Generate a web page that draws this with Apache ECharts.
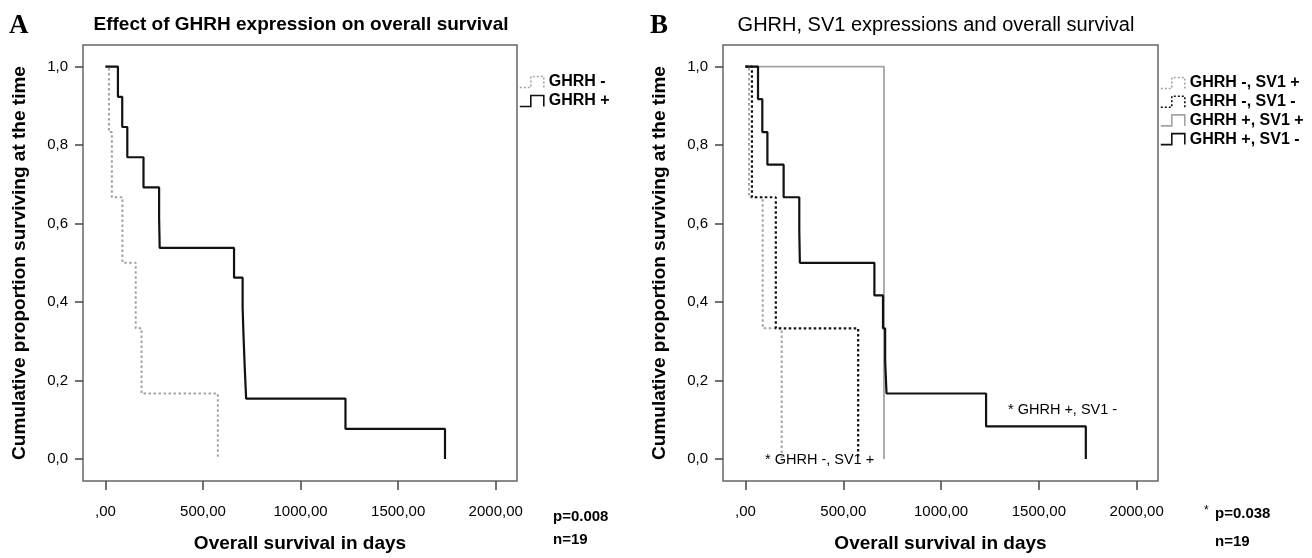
<!DOCTYPE html>
<html>
<head>
<meta charset="utf-8">
<script src="https://cdn.jsdelivr.net/npm/echarts@6/dist/echarts.min.js"></script>
<style>
html, body { margin: 0; padding: 0; background: #fff; }
#main { width: 1312px; height: 558px; }
</style>
</head>
<body>
<div id="main"></div>
<script>
var FONT = "'Liberation Sans', Arial, sans-serif";

// tick labels (SPSS style, comma decimals)
var xTickValues = [0, 500, 1000, 1500, 2000];
var xTickLabels = [',00', '500,00', '1000,00', '1500,00', '2000,00'];
var yTickValues = [0, 0.2, 0.4, 0.6, 0.8, 1.0];
var yTickLabels = ['0,0', '0,2', '0,4', '0,6', '0,8', '1,0'];

// panel A - GHRH expression
var ghrhNegDays = [0, 18, 33, 87, 155, 185, 576];
var ghrhNegSurv = [1, 0.833, 0.667, 0.5, 0.333, 0.167, 0];
var ghrhPosDays = [0, 64, 86, 112, 195, 275, 278, 659, 703, 708, 714, 721, 1230, 1740];
var ghrhPosSurv = [1, 0.923, 0.846, 0.769, 0.692, 0.615, 0.538, 0.462, 0.385, 0.308, 0.231, 0.154, 0.077, 0];

// panel B - GHRH / SV1 groups
var negSv1PosDays = [0, 18, 88, 185];
var negSv1PosSurv = [1, 0.667, 0.333, 0];
var negSv1NegDays = [0, 33, 155, 576];
var negSv1NegSurv = [1, 0.667, 0.333, 0];
var posSv1PosDays = [0, 708];
var posSv1PosSurv = [1, 0];
var posSv1NegDays = [0, 64, 86, 112, 195, 275, 278, 659, 703, 714, 721, 1230, 1740];
var posSv1NegSurv = [1, 0.917, 0.833, 0.75, 0.667, 0.583, 0.5, 0.417, 0.333, 0.25, 0.167, 0.083, 0];

function pairs(days, surv) {
    return days.map(function (d, i) { return [d, surv[i]]; });
}

function lookup(values, labels) {
    return function (v) {
        for (var i = 0; i < values.length; i++) {
            if (Math.abs(values[i] - v) < 1e-6) return labels[i];
        }
        return '';
    };
}

var GRAY = '#a3a3a3';
var BLACK = '#111';
var stepIcon = 'path://M0,12 L11,12 L11,1 L24,1 L24,12';

function xAxis(idx) {
    return {
        type: 'value', gridIndex: idx, min: -115, max: 2109,
        name: 'Overall survival in days', nameLocation: 'middle', nameGap: 53,
        nameTextStyle: { fontFamily: FONT, fontSize: 19, fontWeight: 'bold', color: '#000' },
        axisLine: { show: false, onZero: false },
        axisTick: { show: true, customValues: xTickValues, length: 9, lineStyle: { color: '#444', width: 1.5 } },
        axisLabel: { customValues: xTickValues, formatter: lookup(xTickValues, xTickLabels),
            margin: 23, fontFamily: FONT, fontSize: 15, color: '#000' },
        splitLine: { show: false }
    };
}

function yAxis(idx) {
    return {
        type: 'value', gridIndex: idx, min: -0.056, max: 1.055,
        name: 'Cumulative proportion surviving at the time', nameLocation: 'middle', nameGap: 54,
        nameTextStyle: { fontFamily: FONT, fontSize: 19, fontWeight: 'bold', color: '#000' },
        axisLine: { show: false, onZero: false },
        axisTick: { show: true, customValues: yTickValues, length: 8, lineStyle: { color: '#444', width: 1.5 } },
        axisLabel: { customValues: yTickValues, formatter: lookup(yTickValues, yTickLabels),
            margin: 15, fontFamily: FONT, fontSize: 15, color: '#000' },
        splitLine: { show: false }
    };
}

function km(name, idx, data, color, width, dashed) {
    return {
        name: name, type: 'line', step: 'end', xAxisIndex: idx, yAxisIndex: idx,
        data: data, symbol: 'none', animation: false,
        lineStyle: { color: color, width: width, type: dashed ? [2.5, 2.5] : 'solid' },
        itemStyle: { color: color }
    };
}

function legendItem(name, color, dashed) {
    return {
        name: name, icon: stepIcon,
        itemStyle: { color: 'rgba(0,0,0,0)', borderColor: color, borderWidth: 1.6, borderType: dashed ? [2, 2] : 'solid' }
    };
}

var legendText = { fontFamily: FONT, fontSize: 16, fontWeight: 'bold', color: '#000' };

function txt(x, y, text, size, weight, align, family) {
    return {
        type: 'text', x: x, y: y, silent: true,
        style: { text: text, fill: '#000', font: (weight || 'normal') + ' ' + size + 'px ' + (family || FONT),
            textAlign: align || 'left', textVerticalAlign: 'middle' }
    };
}

var chart = echarts.init(document.getElementById('main'));

var option = {
    backgroundColor: '#fff',
    animation: false,
    grid: [
        { left: 83, top: 45, width: 434, height: 437, show: true, borderColor: '#666', borderWidth: 1.5, backgroundColor: '#fff' },
        { left: 723, top: 45, width: 435, height: 437, show: true, borderColor: '#666', borderWidth: 1.5, backgroundColor: '#fff' }
    ],
    xAxis: [xAxis(0), xAxis(1)],
    yAxis: [yAxis(0), yAxis(1)],
    legend: [
        {
            left: 519, top: 74, padding: 0, orient: 'vertical', itemWidth: 24, itemHeight: 12, itemGap: 3,
            textStyle: legendText, selectedMode: false,
            data: [legendItem('GHRH -', GRAY, true), legendItem('GHRH +', BLACK, false)]
        },
        {
            left: 1160, top: 75, padding: 0, orient: 'vertical', itemWidth: 24, itemHeight: 12, itemGap: 2.7,
            textStyle: legendText, selectedMode: false,
            data: [
                legendItem('GHRH -, SV1 +', GRAY, true),
                legendItem('GHRH -, SV1 -', BLACK, true),
                legendItem('GHRH +, SV1 +', GRAY, false),
                legendItem('GHRH +, SV1 -', BLACK, false)
            ]
        }
    ],
    series: [
        km('GHRH -', 0, pairs(ghrhNegDays, ghrhNegSurv), GRAY, 2, true),
        km('GHRH +', 0, pairs(ghrhPosDays, ghrhPosSurv), BLACK, 2.2, false),
        km('GHRH +, SV1 +', 1, pairs(posSv1PosDays, posSv1PosSurv), GRAY, 1.8, false),
        km('GHRH -, SV1 +', 1, pairs(negSv1PosDays, negSv1PosSurv), GRAY, 2, true),
        km('GHRH -, SV1 -', 1, pairs(negSv1NegDays, negSv1NegSurv), BLACK, 2.2, true),
        km('GHRH +, SV1 -', 1, pairs(posSv1NegDays, posSv1NegSurv), BLACK, 2.2, false)
    ],
    graphic: [
        txt(9, 26, 'A', 27, 'bold', 'left', "'Liberation Serif', 'Times New Roman', serif"),
        txt(650, 26, 'B', 27, 'bold', 'left', "'Liberation Serif', 'Times New Roman', serif"),
        txt(301, 25, 'Effect of GHRH expression on overall survival', 19, 'bold', 'center'),
        txt(936, 25, 'GHRH, SV1 expressions and overall survival', 20, 'normal', 'center'),
        txt(553, 517, 'p=0.008', 15, 'bold'),
        txt(553, 540, 'n=19', 15, 'bold'),
        txt(1204, 511, '*', 12, 'normal'),
        txt(1215, 514, 'p=0.038', 15, 'bold'),
        txt(1215, 542, 'n=19', 15, 'bold'),
        txt(765, 460, '* GHRH -, SV1 +', 14.5, 'normal'),
        txt(1008, 410, '* GHRH +, SV1 -', 14.5, 'normal')
    ]
};

chart.setOption(option);
</script>
</body>
</html>
